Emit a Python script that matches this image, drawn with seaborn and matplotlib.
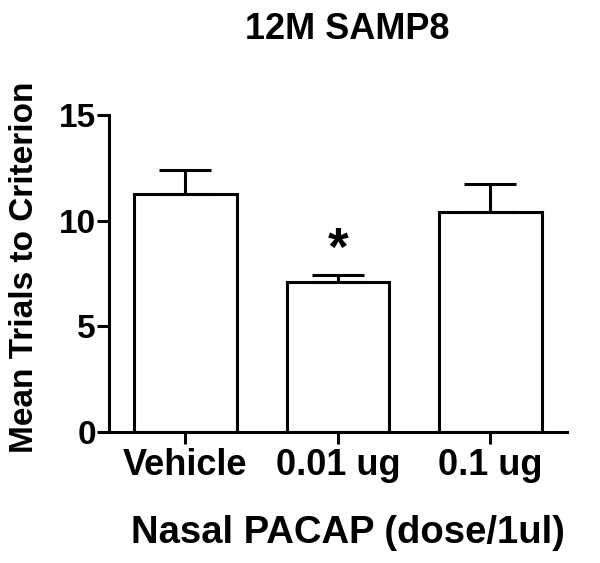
import matplotlib
matplotlib.use("Agg")
import matplotlib.pyplot as plt
import seaborn as sns
import pandas as pd

groups = ["Vehicle", "0.01 ug", "0.1 ug"]
means = [11.27, 7.07, 10.39]
sems = [1.13, 0.35, 1.36]

df = pd.DataFrame({"group": groups, "mean": means, "sem": sems})

sns.set_style("ticks")
plt.rcParams["font.family"] = ["Liberation Sans", "DejaVu Sans"]
plt.rcParams["font.weight"] = "bold"
for key in ["text.color", "axes.labelcolor", "xtick.color", "ytick.color", "axes.edgecolor"]:
    plt.rcParams[key] = "black"

fig, ax = plt.subplots(figsize=(6, 5.63), dpi=100)
fig.subplots_adjust(left=0.182, right=0.9445, bottom=0.2332, top=0.7957)

sns.barplot(data=df, x="group", y="mean", color="white", edgecolor="black",
            linewidth=2.2, width=0.67, errorbar=None, ax=ax, zorder=2)
ax.errorbar(range(len(groups)), df["mean"], yerr=[[0] * len(groups), df["sem"]],
            fmt="none", ecolor="black", elinewidth=2.2, capsize=19, capthick=2.2, zorder=3)

# significance mark
ax.text(1, 8.55, "*", ha="center", va="center", fontsize=38, fontweight="bold")

ax.set_xlim(-0.5, 2.5)
ax.set_ylim(0, 15)
ax.set_yticks([0, 5, 10, 15])
sns.despine(ax=ax)
for s in ["left", "bottom"]:
    ax.spines[s].set_linewidth(2.2)
    ax.spines[s].set_color("black")
ax.tick_params(axis="both", width=2.2, length=8.5, color="black")
ax.tick_params(axis="y", labelsize=24, pad=1)
ax.tick_params(axis="x", labelsize=26, pad=3)
for lab in ax.get_xticklabels() + ax.get_yticklabels():
    lab.set_fontweight("bold")

ax.set_xlabel("Nasal PACAP (dose/1ul)", fontsize=27.5, fontweight="bold")
ax.xaxis.set_label_coords(0.522, -0.263)
ax.set_ylabel("Mean Trials to Criterion", fontsize=24, fontweight="bold")
ax.yaxis.set_label_coords(-0.1515, 0.52)
ax.set_title("12M SAMP8", fontsize=26, fontweight="bold", x=0.521, pad=55)

fig.savefig("out.png", dpi=100)
